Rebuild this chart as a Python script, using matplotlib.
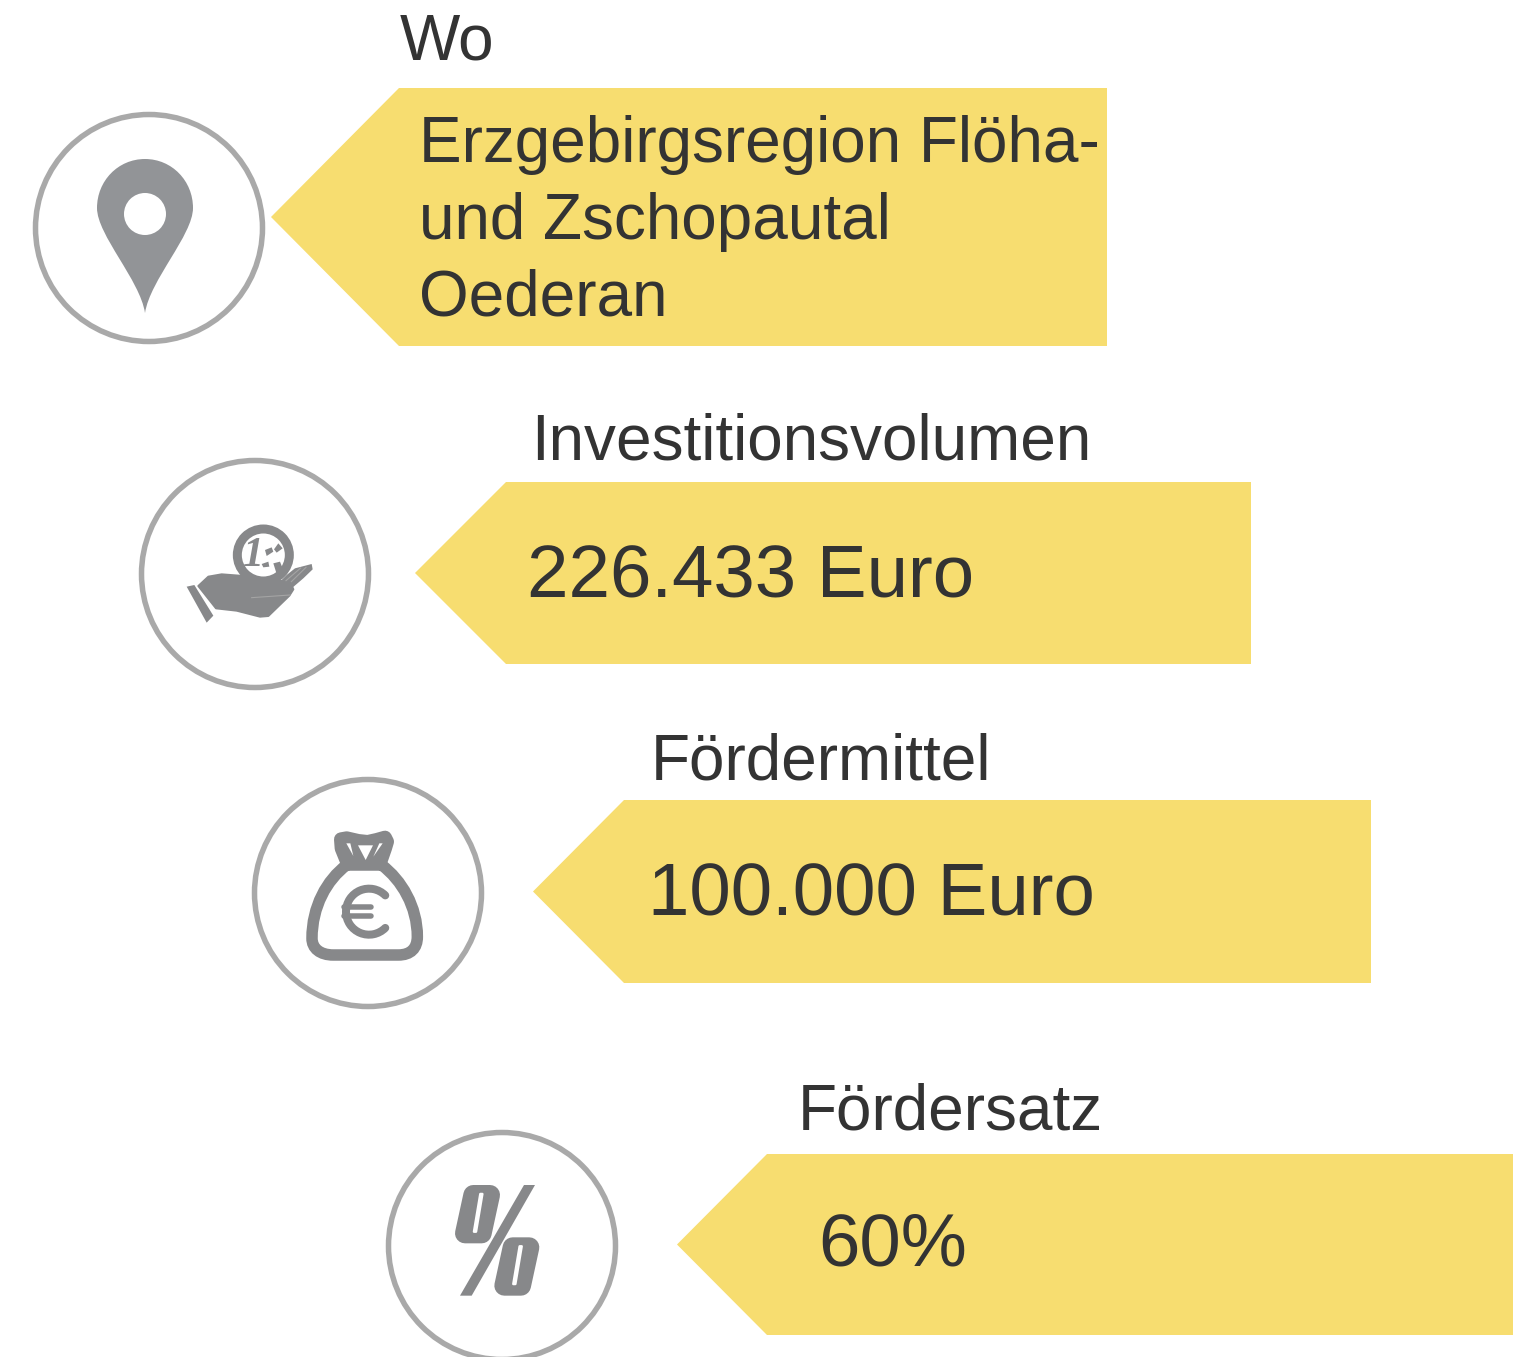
import matplotlib
matplotlib.use("Agg")
import matplotlib.pyplot as plt
from matplotlib.patches import Arc, Circle, PathPatch, Polygon
from matplotlib.path import Path

plt.rcParams['font.family'] = ['Liberation Sans', 'DejaVu Sans']

# Texte
titres = ["Wo", "Investitionsvolumen", "Fördermittel", "Fördersatz"]
valeurs = ["Erzgebirgsregion Flöha-\nund Zschopautal\nOederan", "226.433 Euro", "100.000 Euro", "60%"]

# Mise en page, en pixels
titres_x = [400, 531, 651, 798]
titres_y = [60, 459, 780, 1130]
valeurs_x = [419, 527, 648, 818]
valeurs_y = [162, 598, 916, 1265]
fleches = [(271, 399, 1107, 88, 346), (415, 506, 1251, 482, 664),
           (533, 624, 1371, 800, 983), (677, 767, 1513, 1154, 1335)]
cercles = [(149, 228), (255, 574), (368, 893), (502, 1246)]

JAUNE = '#F7DD70'
TEXTE = '#333333'
GRIS_CERCLE = '#A9A9A9'
GRIS_ICONE = '#87888A'
GRIS_PIN = '#929497'

fig = plt.figure(figsize=(15.22, 13.57), dpi=100)
ax = fig.add_axes([0, 0, 1, 1])
ax.set_xlim(0, 1522)
ax.set_ylim(1357, 0)
ax.axis('off')
PX = 72 / 100  # pixels vers points


def courbe(points, couleur, **kw):
    """ Chemin: un point de départ puis des triplets de Bézier """
    codes = [Path.MOVETO] + [Path.CURVE4] * (len(points) - 1)
    ax.add_patch(PathPatch(Path(points, codes), facecolor=couleur, edgecolor='none', **kw))


def zoom(points, x0, y0):
    """ Coordonnées lues sur un agrandissement x3 vers pixels de l'image """
    return [(x0 + px / 3, y0 + py / 3) for px, py in points]


def forme(points, x0, y0, couleur=GRIS_ICONE, arrondi=0):
    """ Polygone lu sur un agrandissement, arrondi par un trait à joints ronds """
    ax.add_patch(Polygon(zoom(points, x0, y0), closed=True, facecolor=couleur,
                         edgecolor=couleur if arrondi else 'none', linewidth=arrondi * PX, joinstyle='round'))


# Flèches, cercles et textes
for (pointe, gauche, droite, haut, bas), (cx, cy) in zip(fleches, cercles):
    ax.add_patch(Polygon([(pointe, (haut + bas) / 2), (gauche, haut), (droite, haut),
                          (droite, bas), (gauche, bas)], closed=True, facecolor=JAUNE, edgecolor='none'))
    ax.add_patch(Circle((cx, cy), 113.5, facecolor='white', edgecolor=GRIS_CERCLE, linewidth=5.5 * PX))

for titre, x, y in zip(titres, titres_x, titres_y):
    ax.text(x, y, titre, fontsize=63.9 * PX, color=TEXTE, va='baseline', ha='left')

for valeur, x, y in zip(valeurs[1:], valeurs_x[1:], valeurs_y[1:]):
    ax.text(x, y, valeur, fontsize=74.5 * PX, color=TEXTE, va='baseline', ha='left')

for i, ligne in enumerate(valeurs[0].split('\n')):
    ax.text(valeurs_x[0], valeurs_y[0] + i * 77, ligne, fontsize=63.9 * PX, color=TEXTE, va='baseline', ha='left')

# Icône: repère
courbe([(145, 313), (140, 280), (97, 235), (97, 208), (97, 181), (118, 159), (145, 159),
        (172, 159), (193, 181), (193, 208), (193, 235), (150, 280), (145, 313)], GRIS_PIN)
ax.add_patch(Circle((145, 214), 21, facecolor='white', edgecolor='none'))

# Icône: main et pièce
x0, y0 = 130, 450
forme([(205, 408), (235, 380), (275, 373), (340, 378), (400, 395), (450, 392), (482, 400), (490, 418),
       (478, 437), (415, 498), (390, 500), (320, 482), (258, 475)], x0, y0, arrondi=2)
forme([(445, 400), (470, 375), (495, 355), (545, 342), (548, 358), (520, 385), (485, 415)], x0, y0)
forme([(170, 410), (193, 405), (250, 497), (230, 518)], x0, y0)
for a, b in [((468, 392), (512, 354)), ((484, 395), (528, 352)), ((365, 443), (480, 435))]:
    xs, ys = zip(*zoom([a, b], x0, y0))
    ax.plot(xs, ys, color='#A4A4A4', linewidth=0.8)
cx, cy = zoom([(400, 315)], x0, y0)[0]
ax.add_patch(Circle((cx, cy), 30.5, facecolor=GRIS_ICONE, edgecolor='none'))
ax.add_patch(Circle((cx, cy), 21.5, facecolor='white', edgecolor='none'))
ax.text(cx - 11, cy + 11.5, "1", fontsize=42 * PX, family=['Liberation Serif'], style='italic', weight='bold',
        color=GRIS_ICONE, ha='center', va='baseline')
for tache in [[(405, 300), (425, 292), (430, 305), (410, 318)], [(432, 298), (445, 280), (458, 295), (440, 308)],
              [(395, 342), (415, 335), (418, 350), (400, 352)], [(430, 340), (450, 335), (458, 355), (440, 372)]]:
    forme(tache, x0, y0)

# Icône: sac
x0, y0 = 245, 770
sac = [(305, 285), (245, 330), (201, 410), (201, 505), (201, 535), (225, 555), (265, 555), (460, 555),
       (497, 555), (517, 535), (517, 500), (517, 410), (470, 330), (410, 285), (305, 285)]
codes = [Path.MOVETO] + [Path.CURVE4] * 6 + [Path.LINETO] + [Path.CURVE4] * 6 + [Path.LINETO, Path.CLOSEPOLY]
ax.add_patch(PathPatch(Path(zoom(sac, x0, y0) + [(0, 0)], codes), facecolor='white', edgecolor=GRIS_ICONE,
                       linewidth=11.5 * PX))
forme([(305, 272), (290, 235), (288, 208), (305, 205), (340, 213), (368, 216), (395, 210), (420, 203),
       (426, 215), (420, 235), (405, 278), (315, 278)], x0, y0, arrondi=14)
for trou in [[(304, 220), (316, 220), (325, 258)], [(339, 226), (384, 226), (362, 270)],
             [(403, 220), (413, 220), (385, 260)]]:
    forme(trou, x0, y0, couleur='white')
cx, cy = zoom([(372, 425)], x0, y0)[0]
ax.add_patch(Arc((cx, cy), 46, 46, theta1=45, theta2=315, color=GRIS_ICONE, linewidth=8 * PX, capstyle='round'))
for barre in [412, 437]:
    xs, ys = zip(*zoom([(297, barre), (378, barre)], x0, y0))
    ax.plot(xs, ys, color=GRIS_ICONE, linewidth=5.5 * PX, solid_capstyle='round')

# Icône: pour cent
x0, y0 = 380, 1120
forme([(432, 195), (465, 195), (275, 527), (240, 527)], x0, y0)
for dx, dy in [(0, 0), (118, 157)]:
    forme([(280 + dx, 225 + dy), (330 + dx, 225 + dy), (305 + dx, 340 + dy), (255 + dx, 340 + dy)], x0, y0, arrondi=20)
    forme([(301 + dx, 222 + dy), (307 + dx, 222 + dy), (288 + dx, 335 + dy), (282 + dx, 335 + dy)], x0, y0,
          couleur='white', arrondi=2.5)

fig.savefig('out.png', dpi=100, facecolor='white')
plt.close(fig)
